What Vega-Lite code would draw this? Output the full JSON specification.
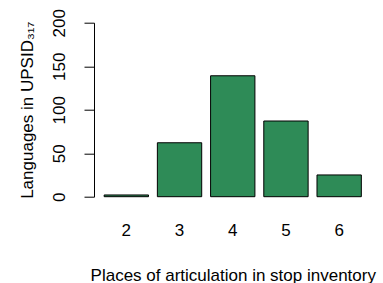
{
  "$schema": "https://vega.github.io/schema/vega-lite/v6.json",
  "autosize": {"type": "none"},
  "padding": {"left": 94, "top": 22.7, "right": 11.5, "bottom": 86.3},
  "width": 277.5,
  "height": 174,
  "background": "white",
  "config": {
    "view": {"stroke": null},
    "font": "Liberation Sans",
    "axis": {"labelFont": "Liberation Sans", "titleFont": "Liberation Sans", "labelColor": "black", "titleColor": "black", "titleFontWeight": "normal", "grid": false}
  },
  "data": {
    "values": [
      {"places": "2", "count": 2},
      {"places": "3", "count": 62},
      {"places": "4", "count": 139},
      {"places": "5", "count": 87},
      {"places": "6", "count": 25}
    ]
  },
  "mark": {"type": "bar", "fill": "#2E8B57", "stroke": "black", "strokeWidth": 1},
  "encoding": {
    "x": {
      "field": "places", "type": "ordinal",
      "scale": {"paddingInner": 0.1667, "paddingOuter": 0.191},
      "axis": {
        "title": "Places of articulation in stop inventory",
        "labelAngle": 0, "domain": false, "ticks": false, "tickSize": 0,
        "labelFontSize": 17, "labelBaseline": "alphabetic", "labelPadding": 38.3,
        "titleFontSize": 17, "titleBaseline": "alphabetic", "titleY": 83.3
      }
    },
    "y": {
      "field": "count", "type": "quantitative",
      "scale": {"domain": [0, 200], "nice": false},
      "axis": {
        "title": "Languages in UPSID₃₁₇",
        "values": [0, 50, 100, 150, 200],
        "domainColor": "black", "tickColor": "black", "tickSize": 10,
        "labelFontSize": 17, "labelAngle": -90, "labelAlign": "center", "labelBaseline": "alphabetic", "labelPadding": 20,
        "titleFontSize": 17, "titleAngle": -90, "titleBaseline": "alphabetic", "titleX": -62
      }
    }
  }
}
